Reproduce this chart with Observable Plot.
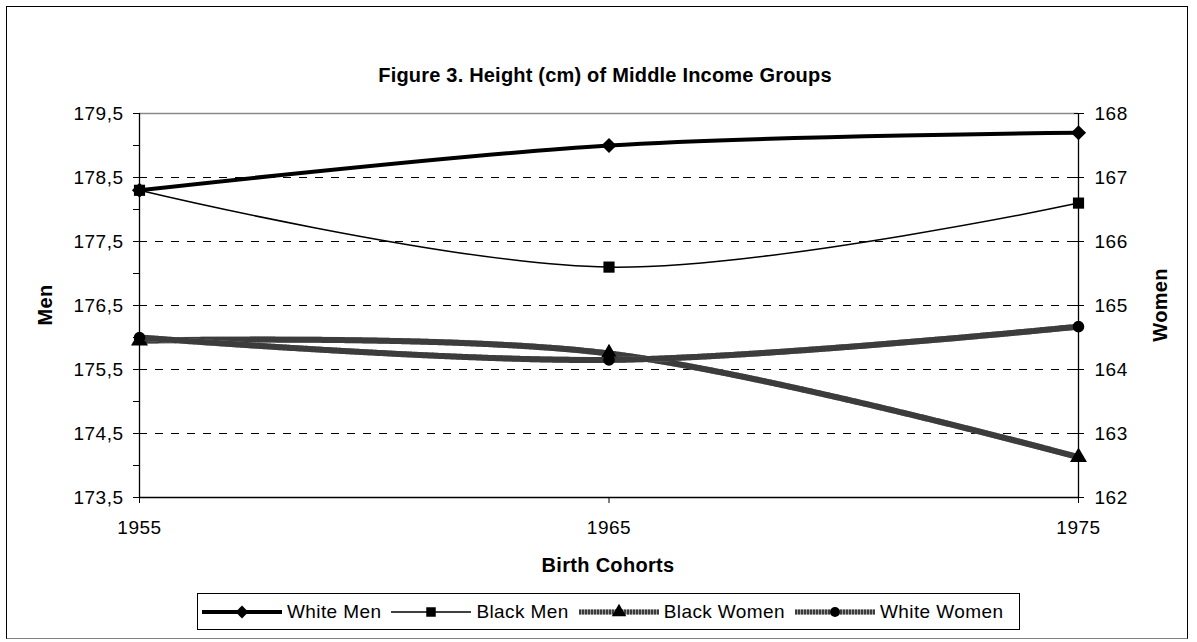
<!DOCTYPE html>
<html>
<head>
<meta charset="utf-8">
<script src="https://cdn.jsdelivr.net/npm/d3@7"></script>
<script src="https://cdn.jsdelivr.net/npm/@observablehq/plot@0.6"></script>
<style>
  html, body { margin: 0; padding: 0; background: #fff; }
  body { font-family: "Liberation Sans", Arial, sans-serif; color: #000; }
  #wrap { position: relative; width: 1197px; height: 642px; overflow: hidden; }
  #frame { position: absolute; left: 6px; top: 6px; width: 1182px; height: 633px; border: 1px solid #000; border-bottom-color: #808080; box-sizing: border-box; }
  #title { position: absolute; left: 105px; width: 1000px; top: 63px; line-height: 24px; text-align: center; font-weight: bold; font-size: 20px; letter-spacing: 0.2px; }
  .atitle { position: absolute; font-weight: bold; font-size: 20px; line-height: 22px; white-space: nowrap; letter-spacing: 0.3px; }
  #plot { position: absolute; left: 0; top: 0; }
  #plot svg text { letter-spacing: 0.5px; }
  #legend { position: absolute; left: 197px; top: 593px; width: 823px; height: 37px; border: 1px solid #000; box-sizing: border-box; display: flex; align-items: center; padding-left: 4px; font-size: 19px; letter-spacing: 0.4px; }
  .item { display: flex; align-items: center; margin-right: 10px; }
  .item svg { margin-right: 5px; }
</style>
</head>
<body>
<div id="wrap">
  <div id="frame"></div>
  <div id="title"></div>
  <div id="plot"></div>
  <div class="atitle" id="xt"></div>
  <div class="atitle" id="ylt"></div>
  <div class="atitle" id="yrt"></div>
  <div id="legend"></div>
</div>
<script>
// ---- data ----
const title = "Figure 3. Height (cm) of Middle Income Groups";
const xTitle = "Birth Cohorts";
const leftTitle = "Men";
const rightTitle = "Women";
const years = [1955, 1965, 1975];
const whiteMen = [178.3, 179.0, 179.2];
const blackMen = [178.3, 177.1, 178.1];
const blackWomen = [164.45, 164.25, 162.63];
const whiteWomen = [164.5, 164.15, 164.67];
const seriesNames = ["White Men", "Black Men", "Black Women", "White Women"];
const menTicks = [173.5, 174, 174.5, 175, 175.5, 176, 176.5, 177, 177.5, 178, 178.5, 179, 179.5];
const menTickLabels = ["173,5", "", "174,5", "", "175,5", "", "176,5", "", "177,5", "", "178,5", "", "179,5"];
const womenTicks = [162, 163, 164, 165, 166, 167, 168];
const menDomain = [173.5, 179.5];
const womenDomain = [162, 168];
const gridMen = [174.5, 175.5, 176.5, 177.5, 178.5];

// women axis is mapped onto men scale
const offset = menDomain[1] - womenDomain[1];

const rows = [];
const add = (name, vals, women) => years.forEach((yr, i) => rows.push({series: name, year: yr, value: vals[i], y: women ? vals[i] + offset : vals[i]}));
add(seriesNames[0], whiteMen, false);
add(seriesNames[1], blackMen, false);
add(seriesNames[2], blackWomen, true);
add(seriesNames[3], whiteWomen, true);
const of = n => rows.filter(r => r.series === n);

const styles = {
  "White Men": {width: 4, symbol: "diamond2", r: 6.8, hatch: false},
  "Black Men": {width: 1.5, symbol: "square", r: 6.3, hatch: false},
  "Black Women": {width: 6, symbol: "triangle", r: 6.3, hatch: true},
  "White Women": {width: 6, symbol: "circle", r: 5.8, hatch: true}
};

const font = '"Liberation Sans", Arial, sans-serif';
const curve = "cardinal";
const marks = [
  Plot.ruleY(gridMen, {y: d => d, stroke: "#000", strokeWidth: 1, strokeDasharray: "8,8"}),
  Plot.ruleY([menDomain[1]], {y: d => d, stroke: "#8a8a8a", strokeWidth: 1.5}),
  Plot.axisY({anchor: "left", ticks: menTicks, tickFormat: (d) => menTickLabels[menTicks.indexOf(d)], tickSize: 6, tickPadding: 10, fontSize: 19, label: null}),
  Plot.axisY({anchor: "right", ticks: womenTicks.map(w => w + offset), tickFormat: d => String(Math.round(d - offset)), tickSize: 5, tickPadding: 11, fontSize: 19, label: null}),
  Plot.axisY({anchor: "right", ticks: womenTicks.map(w => w + offset), tickFormat: () => "", tickSize: -5, label: null}),
  Plot.axisX({ticks: years, tickFormat: d => String(d), tickSize: 6, tickPadding: 17, fontSize: 19, label: null}),
  Plot.ruleX([years[0]], {x: d => d, stroke: "#000", strokeWidth: 1.3}),
  Plot.ruleX([years[years.length - 1]], {x: d => d, stroke: "#000", strokeWidth: 1.3}),
  Plot.ruleY([menDomain[0]], {y: d => d, stroke: "#000", strokeWidth: 1.3})
];
for (const name of seriesNames) {
  const s = styles[name];
  const data = of(name);
  if (s.hatch) {
    marks.push(Plot.line(data, {x: "year", y: "y", curve, stroke: "#9a9a9a", strokeWidth: s.width}));
    marks.push(Plot.line(data, {x: "year", y: "y", curve, stroke: "#3c3c3c", strokeWidth: s.width, strokeDasharray: "2,1"}));
  } else {
    marks.push(Plot.line(data, {x: "year", y: "y", curve, stroke: "#000", strokeWidth: s.width}));
  }
  marks.push(Plot.dot(data, {x: "year", y: "y", symbol: () => s.symbol, r: s.r, fill: "#000", stroke: "none"}));
}

const chart = Plot.plot({
  width: 1197,
  height: 642,
  marginLeft: 139,
  marginRight: 119,
  marginTop: 113,
  marginBottom: 145,
  style: {fontFamily: font, fontSize: "19px", color: "#000", background: "transparent", overflow: "visible"},
  x: {domain: [years[0], years[years.length - 1]]},
  y: {domain: menDomain},
  symbol: {type: "identity"},
  marks
});
document.getElementById("plot").appendChild(chart);

document.getElementById("title").textContent = title;
const xt = document.getElementById("xt");
xt.textContent = xTitle;
xt.style.left = "0px"; xt.style.width = "1216px"; xt.style.textAlign = "center"; xt.style.top = "554px";
const ylt = document.getElementById("ylt");
ylt.textContent = leftTitle;
ylt.style.left = "45px"; ylt.style.top = "305px"; ylt.style.transform = "translate(-50%,-50%) rotate(-90deg)";
const yrt = document.getElementById("yrt");
yrt.textContent = rightTitle;
yrt.style.left = "1160px"; yrt.style.top = "305px"; yrt.style.transform = "translate(-50%,-50%) rotate(-90deg)";

// legend
const legend = document.getElementById("legend");
const symPath = (sym, r) => {
  const map = {diamond2: d3.symbolDiamond2, square: d3.symbolSquare, triangle: d3.symbolTriangle, circle: d3.symbolCircle};
  return d3.symbol(map[sym], Math.PI * r * r)();
};
for (const name of seriesNames) {
  const s = styles[name];
  const item = document.createElement("div");
  item.className = "item";
  const lineSvg = s.hatch
    ? `<line x1="0" y1="10" x2="80" y2="10" stroke="#9a9a9a" stroke-width="${s.width - 1}"/><line x1="0" y1="10" x2="80" y2="10" stroke="#3c3c3c" stroke-width="${s.width - 1}" stroke-dasharray="2,1"/>`
    : `<line x1="0" y1="10" x2="80" y2="10" stroke="#000" stroke-width="${s.width}"/>`;
  item.innerHTML = `<svg width="80" height="20">${lineSvg}<path transform="translate(40,10)" d="${symPath(s.symbol, s.r * 0.85)}" fill="#000"/></svg><span>${name}</span>`;
  legend.appendChild(item);
}
</script>
</body>
</html>
